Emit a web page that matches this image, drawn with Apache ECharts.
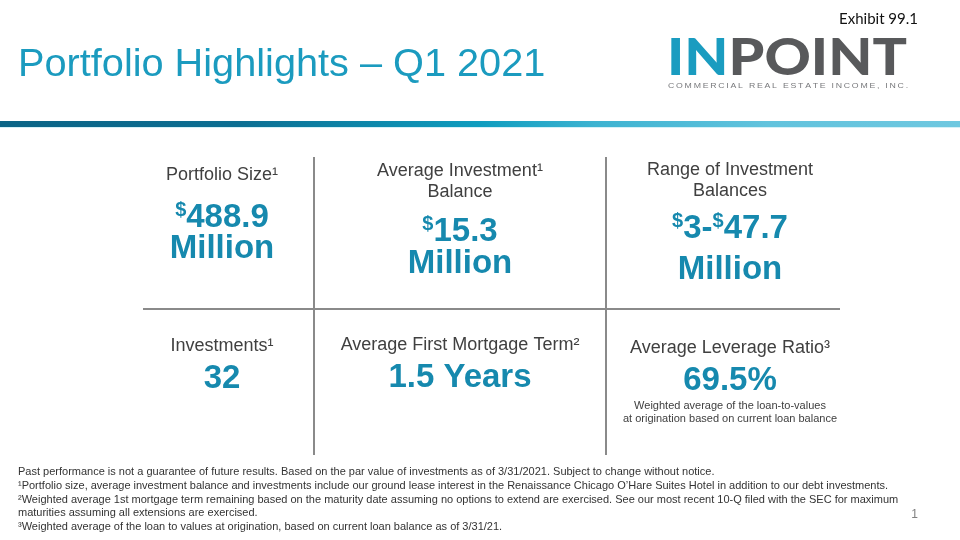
<!DOCTYPE html>
<html>
<head>
<meta charset="utf-8">
<script src="https://cdn.jsdelivr.net/npm/echarts/dist/echarts.min.js"></script>
<style>html,body{margin:0;padding:0;background:#fff;}#c{width:960px;height:540px;}</style>
</head>
<body>
<div id="c"></div>
<script>
// ---- data ----
const slideTitle = 'Portfolio Highlights \u2013 Q1 2021';
const exhibitLabel = 'Exhibit 99.1';
const logoParts = ['IN', 'POINT'];
const logoTagline = 'COMMERCIAL REAL ESTATE INCOME, INC.';
const cellLabels = ['Portfolio Size\u00b9', 'Average Investment\u00b9\nBalance', 'Range of Investment\nBalances',
                    'Investments\u00b9', 'Average First Mortgage Term\u00b2', 'Average Leverage Ratio\u00b3'];
const cellValues = ['$488.9', '$15.3', '$3-$47.7', '32', '1.5 Years', '69.5%'];
const cellUnits = ['Million', 'Million', 'Million', '', '', ''];
const cellNotes = ['', '', '', '', '', 'Weighted average of the loan-to-values\nat origination based on current loan balance'];
const footnotes = [
  'Past performance is not a guarantee of future results. Based on the par value of investments as of 3/31/2021. Subject to change without notice.',
  '\u00b9Portfolio size, average investment balance and investments include our ground lease interest in the Renaissance Chicago O\u2019Hare Suites Hotel in addition to our debt investments.',
  '\u00b2Weighted average 1st mortgage term remaining based on the maturity date assuming no options to extend are exercised. See our most recent 10-Q filed with the SEC for maximum',
  'maturities assuming all extensions are exercised.',
  '\u00b3Weighted average of the loan to values at origination, based on current loan balance as of 3/31/21.'
];
const pageNumber = '1';

// ---- layout ----
const TEAL = '#1689ae';
const TITLE_TEAL = '#1b9bbf';
const GRAY_TXT = '#404040';
const LINE = '#8a8a8a';
const cellLayout = [
  {x: 222, label: 175, value: 218, unit: 249},
  {x: 460, label: 182, value: 232, unit: 264},
  {x: 730, label: 181, value: 229, unit: 270},
  {x: 222, label: 346, value: 379},
  {x: 460, label: 345, value: 378},
  {x: 730, label: 348, value: 381, note: 412}
];

function valueRich(v) {
  return v.split(/(\$)/).filter(s => s !== '').map(s => s === '$' ? '{d|$}' : '{v|' + s + '}').join('');
}

const g = [];
// header bar
g.push({type: 'rect', shape: {x: 0, y: 121, width: 960, height: 6}, style: {fill: new echarts.graphic.LinearGradient(0, 0, 1, 0, [
  {offset: 0, color: '#0b6486'}, {offset: 0.25, color: '#0c6f93'}, {offset: 0.5, color: '#0f9dbf'},
  {offset: 0.62, color: '#3db3d1'}, {offset: 0.8, color: '#62c3dd'}, {offset: 1, color: '#6fc8e0'}])}});
g.push({type: 'rect', shape: {x: 0, y: 127, width: 960, height: 1}, style: {fill: '#d4f1f7'}});
// title
g.push({type: 'text', x: 18, y: 65, style: {text: slideTitle, font: '39.7px "Liberation Sans", Arial, sans-serif', fill: TITLE_TEAL, align: 'left', verticalAlign: 'middle'}});
// exhibit
g.push({type: 'text', x: 918, y: 19, style: {text: exhibitLabel, font: '15px Lato, "Open Sans", sans-serif', fill: '#111', align: 'right', verticalAlign: 'middle'}});
// logo
g.push({type: 'text', x: 667, y: 58, scaleX: 1.1, originX: 0, originY: 0, style: {text: '{a|' + logoParts[0] + '}{b|' + logoParts[1] + '}', align: 'left', verticalAlign: 'middle',
  rich: {a: {font: '900 52px Lato, "Liberation Sans", sans-serif', fill: '#1a9cc0'}, b: {font: '900 52px Lato, "Liberation Sans", sans-serif', fill: '#58595b'}}}});
g.push({type: 'text', x: 668, y: 86, scaleX: 1.165, originX: 0, originY: 0, style: {text: logoTagline.split('').join('\u2009'), font: '7.5px "Liberation Sans", Arial, sans-serif', fill: '#77787b', align: 'left', verticalAlign: 'middle'}});
// grid lines
[314, 606].forEach(x => g.push({type: 'line', shape: {x1: x, y1: 157, x2: x, y2: 455}, style: {stroke: LINE, lineWidth: 2}}));
g.push({type: 'line', shape: {x1: 143, y1: 309, x2: 840, y2: 309}, style: {stroke: LINE, lineWidth: 2}});
// cells
cellLabels.forEach((lab, i) => {
  const L = cellLayout[i];
  g.push({type: 'text', x: L.x, y: L.label, style: {text: lab, font: '18px "Liberation Sans", Arial, sans-serif', fill: GRAY_TXT, align: 'center', verticalAlign: 'middle', lineHeight: 21}});
  g.push({type: 'text', x: L.x, y: L.value, style: {text: valueRich(cellValues[i]), align: 'center', verticalAlign: 'middle',
    rich: {d: {font: 'bold 20px "Liberation Sans", Arial, sans-serif', fill: TEAL, verticalAlign: 'top', lineHeight: 20},
           v: {font: 'bold 33px "Liberation Sans", Arial, sans-serif', fill: TEAL, lineHeight: 36}}}});
  if (cellUnits[i]) g.push({type: 'text', x: L.x, y: L.unit, style: {text: cellUnits[i], font: 'bold 33px "Liberation Sans", Arial, sans-serif', fill: TEAL, align: 'center', verticalAlign: 'middle'}});
  if (cellNotes[i]) g.push({type: 'text', x: L.x, y: L.note, style: {text: cellNotes[i], font: '11px "Liberation Sans", Arial, sans-serif', fill: GRAY_TXT, align: 'center', verticalAlign: 'middle', lineHeight: 13}});
});
// footnotes
footnotes.forEach((t, i) => g.push({type: 'text', x: 18, y: 472 + i * 13.8, style: {text: t, font: '11px "Liberation Sans", Arial, sans-serif', fill: '#333', align: 'left', verticalAlign: 'middle'}}));
g.push({type: 'text', x: 918, y: 515, style: {text: pageNumber, font: '12px "Liberation Sans", Arial, sans-serif', fill: '#808080', align: 'right', verticalAlign: 'middle'}});

const chart = echarts.init(document.getElementById('c'), null, {renderer: 'canvas'});
chart.setOption({backgroundColor: '#ffffff', animation: false, graphic: {elements: g}});
</script>
</body>
</html>
